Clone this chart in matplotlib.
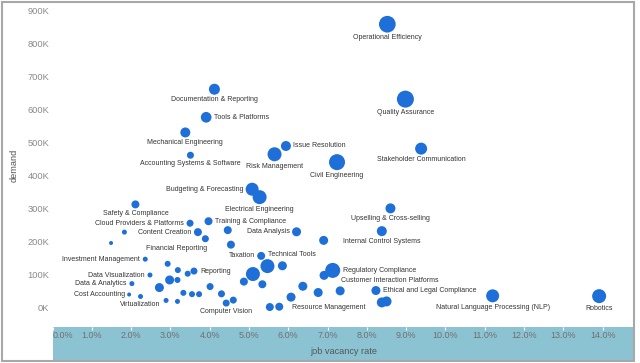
import matplotlib
matplotlib.use('Agg')
import matplotlib.pyplot as plt
from matplotlib.patches import Rectangle
import numpy as np

plt.rcParams['font.family'] = ['Liberation Sans', 'DejaVu Sans']

# ---------------- data ----------------
skills = [
    "Operational Efficiency", "Quality Assurance", "Documentation & Reporting", "Tools & Platforms",
    "Mechanical Engineering", "Accounting Systems & Software", "Issue Resolution", "Risk Management",
    "Stakeholder Communication", "Civil Engineering", "Budgeting & Forecasting", "Electrical Engineering",
    "Safety & Compliance", "Upselling & Cross-selling", "Training & Compliance", "Cloud Providers & Platforms",
    "", "Content Creation", "", "Data Analysis",
    "Internal Control Systems", "", "Financial Reporting", "",
    "", "Investment Management", "Taxation", "",
    "Technical Tools", "", "", "",
    "Reporting", "Data Visualization", "", "Regulatory Compliance",
    "", "Data & Analytics", "", "",
    "", "", "", "",
    "", "Customer Interaction Platforms", "Ethical and Legal Compliance", "Cost Accounting",
    "", "", "", "",
    "", "", "", "Natural Language Processing (NLP)",
    "Robotics", "Virtualization", "", "Computer Vision",
    "", "", "Resource Management", "",
    "",
]
vacancy_rate = [  # percent
    8.52, 8.98, 4.12, 3.91,
    3.38, 3.51, 5.94, 5.65,
    9.38, 7.24, 5.08, 5.27,
    2.11, 8.60, 3.97, 3.50,
    1.83, 3.70, 4.46, 6.21,
    8.38, 1.49, 3.89, 4.54,
    6.90, 2.36, 5.31, 5.47,
    5.85, 2.93, 3.19, 3.44,
    3.60, 2.48, 5.10, 7.13,
    6.91, 2.02, 2.98, 3.18,
    4.87, 5.34, 2.72, 4.01,
    6.37, 7.32, 8.23, 1.95,
    2.24, 3.33, 3.55, 3.73,
    4.30, 6.07, 6.76, 11.20,
    13.91, 2.89, 3.18, 4.42,
    4.60, 5.53, 5.77, 8.38,
    8.50,
]
demand_k = [  # thousands
    859, 632, 662, 577,
    531, 462, 490, 465,
    482, 441, 359, 335,
    313, 301, 262, 256,
    229, 229, 235, 230,
    232, 196, 209, 191,
    204, 147, 157, 126,
    127, 133, 114, 103,
    111, 99, 102, 113,
    98, 73, 84, 84,
    79, 71, 61, 64,
    65, 51, 52, 40,
    34, 45, 41, 41,
    42, 32, 46, 36,
    35, 22, 19, 14,
    23, 2, 3, 16,
    19,
]
openings = [  # relative volume (bubble area)
    279, 289, 121, 114,
    100, 49, 100, 196,
    144, 256, 169, 196,
    64, 100, 64, 49,
    25, 64, 64, 81,
    100, 16, 49, 64,
    81, 25, 64, 196,
    81, 36, 36, 36,
    49, 25, 196, 225,
    81, 25, 81, 36,
    64, 64, 81, 49,
    81, 81, 81, 16,
    25, 36, 36, 36,
    49, 81, 81, 169,
    196, 25, 25, 49,
    49, 64, 64, 100,
    100,
]
x_ticks = list(range(0, 15))
y_ticks = list(range(0, 901, 100))

# ---------------- layout ----------------
W, H = 640, 363
PT = 72 / 100.0  # points per pixel

# label placement: mode b=below, r=right, l=left, c=custom (dx_px, dy_px down, ha)
label_place = {
    "Operational Efficiency": ("b",), "Quality Assurance": ("b",),
    "Documentation & Reporting": ("b",), "Tools & Platforms": ("r",),
    "Mechanical Engineering": ("b",), "Accounting Systems & Software": ("b",),
    "Issue Resolution": ("r",), "Risk Management": ("b",),
    "Stakeholder Communication": ("b",), "Civil Engineering": ("b",),
    "Budgeting & Forecasting": ("l",), "Electrical Engineering": ("b",),
    "Safety & Compliance": ("b",), "Upselling & Cross-selling": ("b",),
    "Training & Compliance": ("r",), "Cloud Providers & Platforms": ("l",),
    "Content Creation": ("l",), "Data Analysis": ("l",),
    "Internal Control Systems": ("b",), "Financial Reporting": ("c", -29, 9.3, "center"),
    "Investment Management": ("l",), "Taxation": ("l",),
    "Technical Tools": ("c", -14.3, -11.4, "left"), "Reporting": ("r",),
    "Data Visualization": ("l",), "Regulatory Compliance": ("r",),
    "Data & Analytics": ("l",), "Customer Interaction Platforms": ("c", 0.5, -10.8, "left"),
    "Ethical and Legal Compliance": ("r",), "Cost Accounting": ("l",),
    "Natural Language Processing (NLP)": ("b",), "Robotics": ("b",),
    "Virtualization": ("c", -6, 4, "right"), "Computer Vision": ("b",),
    "Resource Management": ("c", 12.5, 0.3, "left"),
}

fig = plt.figure(figsize=(W / 100, H / 100), dpi=100)

# outer frame
fig.patches.append(Rectangle((2 / W, 2 / H), 632 / W, 359 / H, transform=fig.transFigure,
                             fill=False, edgecolor='#a8a8a8', linewidth=1.5, zorder=5))
# x-axis band
fig.patches.append(Rectangle((52.5 / W, 2.5 / H), 581.5 / W, 33.5 / H, transform=fig.transFigure,
                             facecolor='#8cc3d3', edgecolor='none', zorder=-1))

ax = fig.add_axes([52.5 / W, 36 / H, 581.5 / W, 324 / H])
ax.set_zorder(2)
ax.set_facecolor('none')
ax.set_xlim(0, 14.797)
ax.set_ylim(-58.5, 923.3)
for s in ax.spines.values():
    s.set_visible(False)

diam = np.sqrt(np.array(openings, dtype=float))  # px
ax.scatter(vacancy_rate, demand_k, s=(diam * PT) ** 2, color='#1f6fd8',
           linewidths=0, zorder=3, clip_on=False)

for name, xv, yv, d in zip(skills, vacancy_rate, demand_k, diam):
    if not name or name not in label_place:
        continue
    p = label_place[name]
    r = d / 2
    if p[0] == 'b':
        dx, dy, ha = 0, r + 5, 'center'
    elif p[0] == 'r':
        dx, dy, ha = r + 2.5, 0, 'left'
    elif p[0] == 'l':
        dx, dy, ha = -(r + 2.5), 0, 'right'
    else:
        dx, dy, ha = p[1], p[2], p[3]
    ax.annotate(name, xy=(xv, yv), xytext=(dx * PT, -dy * PT), textcoords='offset points',
                ha=ha, va='center', fontsize=5.05, color='#333333', zorder=4)

ax.set_xticks(x_ticks)
ax.set_xticklabels([f"{v:.1f}%" for v in x_ticks])
ax.get_xticklabels()[0].set_horizontalalignment('left')
ax.tick_params(axis='x', direction='out', length=3 * PT, width=0.8, color='white',
               pad=0.5 * PT, labelsize=6.5, labelcolor='#707070')
ax.set_yticks(y_ticks)
ax.set_yticklabels([f"{v}K" for v in y_ticks])
ax.tick_params(axis='y', length=0, pad=3 * PT, labelsize=6.7, labelcolor='#8a8a8a')

fig.text(343.5 / W, (H - 352) / H, "job vacancy rate", ha='center', va='center',
         fontsize=6.6, color='#555555', zorder=6)
fig.text(14 / W, (H - 165) / H, "demand", ha='center', va='center', rotation=90,
         fontsize=6.7, color='#555555')

fig.savefig('out.png', dpi=100)
